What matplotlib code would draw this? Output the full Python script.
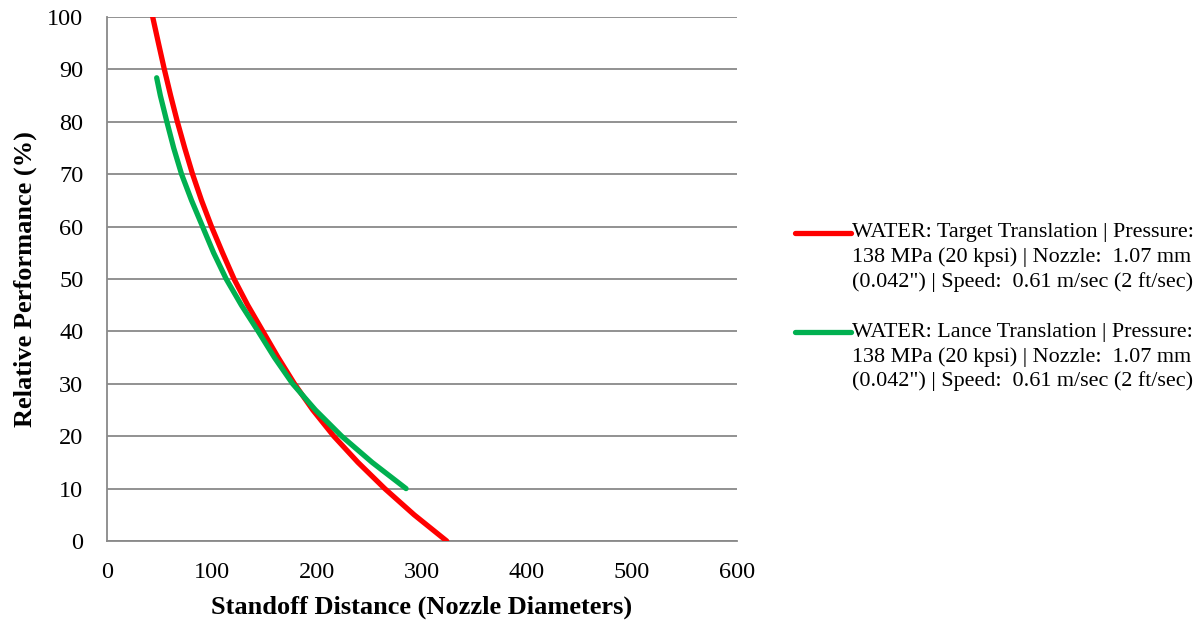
import matplotlib.pyplot as plt

red_x = [43.5, 49.0, 54.6, 60.6, 67.0, 74.0, 81.5, 90.0, 99.5, 110.0, 121.0, 134.0, 148.5,
         163.0, 178.5, 196.0, 216.0, 239.0, 264.5, 292.5, 323.5]
red_y = [100, 95, 90, 85, 80, 75, 70, 65, 60, 55, 50, 45, 40, 35, 30, 25, 20, 15, 10, 5, 0]
green_x = [47.3, 50.8, 57.0, 63.5, 71.0, 80.5, 91.0, 101.5, 113.5, 128.0, 144.0, 159.5,
           176.8, 198.5, 223.5, 252.5, 284.8]
green_y = [88.4, 85, 80, 75, 70, 65, 60, 55, 50, 45, 40, 35, 30, 25, 20, 15, 10]
red_label = ('WATER: Target Translation | Pressure:\n138 MPa (20 kpsi) | Nozzle:  1.07 mm\n'
             '(0.042") | Speed:  0.61 m/sec (2 ft/sec)')
green_label = ('WATER: Lance Translation | Pressure:\n138 MPa (20 kpsi) | Nozzle:  1.07 mm\n'
               '(0.042") | Speed:  0.61 m/sec (2 ft/sec)')

plt.rcParams['font.family'] = ['Liberation Serif', 'DejaVu Serif']
fig = plt.figure(figsize=(12.01, 6.29), dpi=100)
ax = fig.add_axes([0.0891, 0.1399, 0.5246, 0.8331])
grid_c = '#898989'
ax.plot(red_x, red_y, color='#ff0000', lw=3.8, solid_capstyle='round', label=red_label, zorder=3)
ax.plot(green_x, green_y, color='#00b050', lw=3.8, solid_capstyle='round', label=green_label, zorder=3)
ax.set_xlim(0, 600)
ax.set_ylim(0, 100)
ax.set_xticks(range(0, 601, 100))
ax.set_yticks(range(0, 101, 10))
ax.yaxis.grid(True, color=grid_c, lw=1.3)
ax.set_axisbelow(True)
for s in ['top', 'right']:
    ax.spines[s].set_visible(False)
for s in ['left', 'bottom']:
    ax.spines[s].set_color(grid_c)
    ax.spines[s].set_linewidth(1.3)
ax.tick_params(length=0, labelsize=17.5)
ax.tick_params(axis='x', pad=15)
ax.tick_params(axis='y', pad=17)
ax.set_xlabel('Standoff Distance (Nozzle Diameters)', fontsize=19, fontweight='bold')
ax.set_ylabel('Relative Performance (%)', fontsize=19, fontweight='bold')
ax.xaxis.set_label_coords(0.5, -0.105)
ax.yaxis.set_label_coords(-0.111, 0.5)

leg = fig.legend(loc='upper left', bbox_to_anchor=(0.662, 0.645), frameon=False, fontsize=15.9,
                 handlelength=2.55, handleheight=1.2, handletextpad=0.05, labelspacing=1.42,
                 borderpad=0, borderaxespad=0)
for t in leg.get_texts():
    t.set_linespacing(1.33)
for col in leg._legend_handle_box.get_children():
    for row in col.get_children():
        row.align = 'top'
fig.savefig('out.png', dpi=100)
